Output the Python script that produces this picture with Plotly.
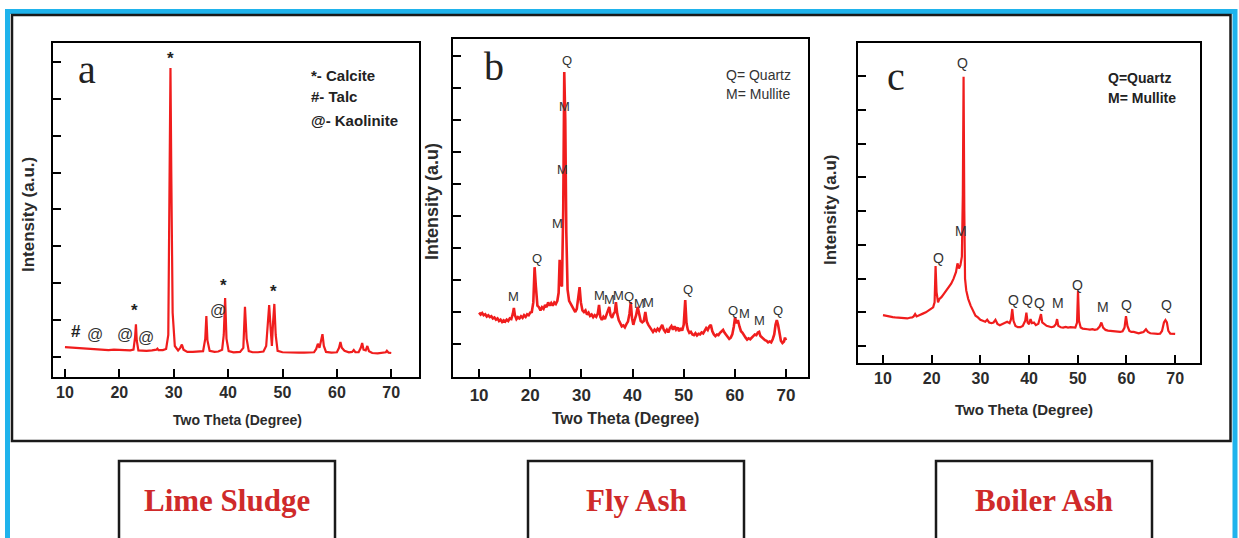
import plotly.graph_objects as go

W, H = 1239, 538

# ---------------- data ----------------
# Panel a : Lime Sludge
a_theta = [10, 11, 12, 13, 14, 15, 16, 17, 18, 19, 20, 21, 22, 22.6, 22.9, 23.05, 23.2, 23.5, 24, 25, 26,
           26.8, 27, 27.2, 28, 28.6, 29.0, 29.25, 29.4, 29.55, 29.8, 30.2, 30.8, 31.2, 31.5, 31.8, 32.5,
           33.5, 34.5, 35.4, 35.8, 36.0, 36.2, 36.6, 37.5, 38.2, 38.9, 39.2, 39.45, 39.7, 40.1, 41, 42.2,
           42.8, 43.1, 43.4, 43.8, 44.5, 45.5, 46.5, 47.0, 47.3, 47.55, 47.85, 48.05, 48.25, 48.5, 48.75,
           49.1, 50, 51, 52, 53, 54, 55, 55.8, 56.2, 56.5, 56.8, 57.1, 57.35, 57.6, 58, 59, 60, 60.4,
           60.65, 60.9, 61.4, 62.2, 62.8, 63.1, 63.4, 64, 64.4, 64.65, 64.9, 65.3, 65.6, 65.9, 66.5, 67.5,
           68.5, 69, 69.2, 69.5, 70]
a_int = [0.27, 0.26, 0.25, 0.23, 0.22, 0.21, 0.20, 0.20, 0.19, 0.20, 0.19, 0.18, 0.18, 0.20, 0.55, 0.89,
         0.45, 0.18, 0.17, 0.17, 0.18, 0.20, 0.23, 0.19, 0.19, 0.22, 0.60, 4.50, 7.83, 5.00, 1.20, 0.30,
         0.18, 0.25, 0.34, 0.20, 0.14, 0.14, 0.14, 0.16, 0.50, 1.11, 0.45, 0.17, 0.14, 0.15, 0.20, 0.60,
         1.60, 0.50, 0.16, 0.13, 0.14, 0.25, 1.36, 0.50, 0.16, 0.13, 0.13, 0.15, 0.30, 0.80, 1.41, 0.70,
         0.30, 0.90, 1.44, 0.60, 0.17, 0.13, 0.12, 0.12, 0.12, 0.12, 0.12, 0.13, 0.22, 0.36, 0.25, 0.45,
         0.62, 0.30, 0.14, 0.12, 0.13, 0.25, 0.41, 0.25, 0.17, 0.13, 0.14, 0.19, 0.13, 0.13, 0.25, 0.38,
         0.20, 0.18, 0.30, 0.16, 0.11, 0.10, 0.11, 0.13, 0.17, 0.12, 0.11]
a_mark_text = ["*", "*", "#", "@", "@", "@", "@", "*", "*"]
a_mark_x = [29.4, 22.7, 12.0, 15.5, 21.1, 24.9, 38.1, 39.2, 48.3]
a_mark_y = [8.10, 1.25, 0.68, 0.62, 0.62, 0.54, 1.25, 1.95, 1.79]
a_legend = ["*- Calcite", "#- Talc", "@- Kaolinite"]

# Panel b : Fly Ash
b_theta = [10.0, 10.3, 10.6, 10.9, 11.2, 11.5, 11.8, 12.1, 12.4, 12.7, 13.0, 13.3, 13.6, 13.9, 14.2, 14.5,
           14.8, 15.1, 15.4, 15.7, 16.0, 16.3, 16.6, 16.8, 17.0, 17.3, 17.6, 17.9, 18.2, 18.5, 18.8, 19.1,
           19.4, 19.7, 20.0, 20.3, 20.6, 20.85, 21.1, 21.4, 21.7, 22.0, 22.3, 22.6, 22.9, 23.2, 23.5, 23.8,
           24.1, 24.4, 24.7, 25.0, 25.3, 25.55, 25.75, 25.95, 26.2, 26.45, 26.65, 26.85, 27.05, 27.3, 27.6,
           27.9, 28.2, 28.5, 28.8, 29.1, 29.4, 29.65, 29.9, 30.2, 30.5, 30.8, 31.1, 31.4, 31.7, 32.0, 32.3,
           32.6, 32.9, 33.2, 33.45, 33.7, 34.0, 34.3, 34.6, 34.9, 35.2, 35.45, 35.7, 36.0, 36.3, 36.55,
           36.75, 37.0, 37.3, 37.6, 37.9, 38.2, 38.5, 38.8, 39.1, 39.4, 39.65, 39.9, 40.15, 40.4, 40.7,
           41.0, 41.3, 41.6, 41.9, 42.2, 42.5, 42.8, 43.1, 43.4, 43.7, 44.0, 44.3, 44.6, 44.9, 45.2, 45.5,
           45.8, 46.1, 46.4, 46.7, 47.0, 47.3, 47.6, 47.9, 48.2, 48.5, 48.8, 49.1, 49.4, 49.7, 50.0, 50.3,
           50.55, 50.8, 51.1, 51.4, 51.7, 52.0, 52.3, 52.6, 52.9, 53.2, 53.5, 53.8, 54.1, 54.4, 54.7, 55.0,
           55.3, 55.6, 55.9, 56.2, 56.5, 56.8, 57.1, 57.4, 57.7, 58.0, 58.3, 58.6, 58.9, 59.2, 59.5, 59.8,
           60.05, 60.3, 60.6, 60.9, 61.2, 61.5, 61.8, 62.1, 62.4, 62.7, 63.0, 63.3, 63.6, 63.9, 64.2, 64.5,
           64.75, 65.0, 65.3, 65.6, 65.9, 66.2, 66.5, 66.8, 67.1, 67.4, 67.7, 67.95, 68.2, 68.45, 68.7,
           69.0, 69.3, 69.6, 69.8, 70.0]
b_int = [0.98, 0.92, 0.97, 0.90, 0.93, 0.86, 0.90, 0.84, 0.87, 0.80, 0.83, 0.76, 0.80, 0.72, 0.76, 0.69,
         0.74, 0.70, 0.76, 0.72, 0.80, 0.78, 0.95, 1.13, 0.90, 0.78, 0.84, 0.80, 0.87, 0.82, 0.90, 0.85,
         0.93, 0.90, 0.98, 1.00, 1.30, 2.40, 1.80, 1.20, 1.15, 1.05, 1.15, 1.10, 1.22, 1.15, 1.30, 1.20,
         1.28, 1.20, 1.30, 1.25, 1.35, 1.60, 2.63, 1.90, 1.80, 4.20, 8.50, 7.00, 3.50, 1.70, 1.35,
         1.25, 1.15, 1.05, 1.00, 1.10, 1.40, 1.78, 1.30, 1.05, 1.00, 1.05, 0.92, 0.98, 0.88, 0.92, 0.84,
         0.90, 0.85, 0.95, 1.22, 0.85, 0.75, 0.85, 0.78, 0.90, 1.00, 1.16, 0.90, 0.82, 0.95, 1.00,
         1.31, 0.95, 0.75, 0.62, 0.55, 0.58, 0.52, 0.62, 0.70, 0.95, 1.31, 0.80, 0.60, 0.75, 0.90,
         1.16, 0.95, 0.72, 0.68, 0.72, 1.00, 0.70, 0.60, 0.50, 0.45, 0.38, 0.45, 0.40, 0.48, 0.42, 0.50,
         0.60, 0.45, 0.38, 0.45, 0.36, 0.50, 0.56, 0.45, 0.55, 0.45, 0.52, 0.40, 0.50, 0.42, 0.60, 1.37,
         0.65, 0.45, 0.35, 0.38, 0.30, 0.28, 0.34, 0.27, 0.32, 0.30, 0.36, 0.33, 0.42, 0.50, 0.44, 0.55,
         0.60, 0.40, 0.30, 0.25, 0.30, 0.28, 0.35, 0.40, 0.44, 0.35, 0.28, 0.22, 0.16, 0.20, 0.30, 0.55,
         0.84, 0.65, 0.75, 0.55, 0.40, 0.35, 0.25, 0.20, 0.14, 0.18, 0.15, 0.22, 0.25, 0.30, 0.28, 0.36,
         0.38, 0.25, 0.20, 0.15, 0.12, 0.10, 0.05, 0.08, 0.05, 0.15, 0.30, 0.60, 0.75, 0.60, 0.35,
         0.10, 0.03, 0.08, 0.20, 0.12]
b_mark_text = ["Q", "M", "M", "M", "Q", "M", "M", "M", "M", "Q", "M", "M", "Q", "Q", "M", "M", "Q"]
b_mark_x = [27.1, 26.6, 26.3, 25.4, 21.3, 16.7, 33.5, 35.45, 37.2, 39.4, 41.4, 43.2, 50.8, 59.7, 61.8, 64.9, 68.5]
b_mark_y = [8.85, 7.42, 5.46, 3.77, 2.68, 1.48, 1.53, 1.40, 1.53, 1.48, 1.27, 1.29, 1.71, 1.06, 0.96, 0.72, 1.06]
b_legend = ["Q= Quartz", "M= Mullite"]

# Panel c : Boiler Ash
c_theta = [10.0, 10.5, 11.0, 11.5, 12.0, 12.5, 13.0, 13.5, 14.0, 14.5, 15.0, 15.5, 16.0, 16.3, 16.6, 16.9,
           17.3, 17.8, 18.3, 18.8, 19.3, 19.8, 20.3, 20.6, 20.8, 21.0, 21.3, 21.6, 22.0, 22.5, 23.0, 23.5,
           24.0, 24.5, 25.0, 25.3, 25.6, 25.9, 26.2, 26.4, 26.55, 26.7, 26.85, 27.1, 27.5, 28.0, 28.5, 29.0,
           29.5, 30.0, 30.5, 31.0, 31.4, 31.8, 32.3, 32.7, 33.1, 33.5, 34.0, 34.5, 35.0, 35.5, 36.0, 36.3,
           36.55, 36.8, 37.2, 37.7, 38.2, 38.7, 39.2, 39.45, 39.7, 40.0, 40.3, 40.6, 41.0, 41.4, 41.9, 42.2,
           42.45, 42.7, 43.1, 43.6, 44.1, 44.6, 45.1, 45.5, 45.75, 46.0, 46.5, 47.0, 47.5, 48.0, 48.5, 49.0,
           49.5, 49.85, 50.05, 50.25, 50.6, 51.0, 51.5, 52.0, 52.5, 53.0, 53.5, 54.0, 54.5, 54.85, 55.2,
           55.7, 56.2, 56.7, 57.2, 57.7, 58.2, 58.7, 59.2, 59.6, 59.9, 60.2, 60.6, 61.0, 61.5, 62.0, 62.5,
           63.0, 63.5, 64.0, 64.4, 64.9, 65.4, 65.9, 66.4, 66.9, 67.3, 67.7, 68.0, 68.3, 68.6, 69.0, 69.5, 70.0]
c_int = [0.92, 0.90, 0.90, 0.87, 0.86, 0.85, 0.84, 0.83, 0.82, 0.83, 0.82, 0.84, 0.85, 0.88, 0.95, 0.88,
         0.90, 0.93, 0.97, 1.00, 1.05, 1.10, 1.15, 1.30, 2.37, 1.60, 1.30, 1.40, 1.45, 1.55, 1.65, 1.75,
         1.85, 2.00, 2.20, 2.45, 2.30, 2.40, 2.65, 4.50, 7.98, 4.00, 2.00, 1.65, 1.40, 1.20, 1.05, 0.90,
         0.85, 0.78, 0.75, 0.72, 0.78, 0.70, 0.68, 0.70, 0.78, 0.66, 0.62, 0.65, 0.70, 0.72, 0.68, 0.80,
         1.10, 0.75, 0.60, 0.56, 0.56, 0.60, 0.75, 0.99, 0.70, 0.65, 0.80, 0.68, 0.70, 0.62, 0.66, 0.80,
         0.95, 0.70, 0.65, 0.60, 0.58, 0.56, 0.58, 0.65, 0.80, 0.60, 0.56, 0.55, 0.57, 0.55, 0.56, 0.55,
         0.55, 0.70, 1.64, 0.75, 0.55, 0.52, 0.50, 0.50, 0.49, 0.50, 0.48, 0.50, 0.58, 0.70, 0.55,
         0.48, 0.46, 0.45, 0.45, 0.44, 0.43, 0.42, 0.44, 0.55, 0.89, 0.60, 0.45, 0.42, 0.42, 0.40, 0.38,
         0.40, 0.42, 0.50, 0.42, 0.38, 0.37, 0.38, 0.36, 0.37, 0.45, 0.70, 0.77, 0.70, 0.45, 0.37, 0.36, 0.36]
c_mark_text = ["Q", "M", "Q", "Q", "Q", "Q", "M", "Q", "M", "Q", "Q"]
c_mark_x = [26.4, 26.0, 21.4, 36.8, 39.6, 42.2, 46.0, 50.0, 55.1, 60.0, 68.3]
c_mark_y = [8.38, 3.41, 2.62, 1.36, 1.36, 1.29, 1.29, 1.81, 1.16, 1.21, 1.21]
c_legend = ["Q=Quartz", "M= Mullite"]

x_ticks = [10, 20, 30, 40, 50, 60, 70]
x_tick_labels = ["10", "20", "30", "40", "50", "60", "70"]
x_title = "Two Theta (Degree)"
sample_names = ["Lime Sludge", "Fly Ash", "Boiler Ash"]

# ---------------- helpers (layout positions in pixels) ----------------
def fx(px):
    return px / W

def fy(py):
    return 1 - py / H

RED = "#f01d1d"
INK = "#2b2b2b"
SANS = "Arial, Liberation Sans"
SERIF = "Liberation Serif, Times New Roman"

fig = go.Figure()

panels = [
    dict(t=a_theta, i=a_int, mt=a_mark_text, mx=a_mark_x, my=a_mark_y,
         box=(53, 43, 419, 377), xr=[7.8, 75.1], yr=[-0.54, 8.51], ny=9, lw=2.2, tf=16, so=0, mf=14),
    dict(t=b_theta, i=b_int, mt=b_mark_text, mx=b_mark_x, my=b_mark_y,
         box=(453, 39, 808, 377), xr=[4.9, 74.3], yr=[-1.03, 9.53], ny=10, lw=2.6, tf=17, so=2, mf=13),
    dict(t=c_theta, i=c_int, mt=c_mark_text, mx=c_mark_x, my=c_mark_y,
         box=(858, 43, 1200, 363), xr=[4.87, 75.1], yr=[-0.5, 8.98], ny=9, lw=2.2, tf=16, so=0, mf=14),
]

annotations = []
for k, p in enumerate(panels, start=1):
    xa = "x" if k == 1 else f"x{k}"
    ya = "y" if k == 1 else f"y{k}"
    fig.add_trace(go.Scatter(x=p["t"], y=p["i"], mode="lines",
                             line=dict(color=RED, width=p["lw"]),
                             xaxis=xa, yaxis=ya, showlegend=False, hoverinfo="skip"))
    l, t, r, b = p["box"]
    axis_common = dict(showline=True, linecolor="black", linewidth=2, mirror=True,
                       showgrid=False, zeroline=False, ticks="inside", ticklen=8,
                       tickwidth=2, tickcolor="black")
    fig.update_layout(**{
        ("xaxis" if k == 1 else f"xaxis{k}"): dict(
            domain=[fx(l), fx(r)], range=p["xr"], tickvals=x_ticks,
            ticktext=["<b>" + s + "</b>" for s in x_tick_labels],
            anchor=ya, tickfont=dict(family=SANS, size=p["tf"], color=INK),
            ticklabelstandoff=p["so"], **axis_common),
        ("yaxis" if k == 1 else f"yaxis{k}"): dict(
            domain=[fy(b), fy(t)], range=p["yr"], tickvals=list(range(p["ny"])),
            showticklabels=False, anchor=xa, **axis_common),
    })
    for txt, mx, my in zip(p["mt"], p["mx"], p["my"]):
        if txt in "*#":
            font = dict(family=SANS, size=17, color="#222222")
            txt = "<b>" + txt + "</b>"
        elif txt == "@":
            font = dict(family=SANS, size=16, color="#333333")
        else:
            font = dict(family=SANS, size=p["mf"], color="#333333")
        annotations.append(dict(x=mx, y=my, xref=xa, yref=ya, text=txt, showarrow=False,
                                font=font, xanchor="center", yanchor="middle"))

# Axis titles (pixel-placed text)
x_titles = [(237, 420, 14), (625, 418, 16), (1024, 409, 15)]
y_titles = [("Intensity (a.u.)", 28, 215, 17), ("Intensity (a.u)", 432, 201, 18),
            ("Intensity (a.u)", 830, 210, 17)]
for cx, cy, fs in x_titles:
    annotations.append(dict(x=fx(cx), y=fy(cy), xref="paper", yref="paper", text="<b>" + x_title + "</b>",
                            showarrow=False, xanchor="center", yanchor="middle",
                            font=dict(family=SANS, size=fs, color=INK)))
for txt, cx, cy, fs in y_titles:
    annotations.append(dict(x=fx(cx), y=fy(cy), xref="paper", yref="paper", text="<b>" + txt + "</b>",
                            showarrow=False, xanchor="center", yanchor="middle", textangle=-90,
                            font=dict(family=SANS, size=fs, color=INK)))

# Panel letters
for txt, cx, cy in [("a", 87, 70), ("b", 494, 66), ("c", 896, 76)]:
    annotations.append(dict(x=fx(cx), y=fy(cy), xref="paper", yref="paper", text=txt, showarrow=False,
                            xanchor="center", yanchor="middle",
                            font=dict(family=SERIF, size=40, color="#222222")))

# Legends inside panels
for txt, cy in zip(a_legend, [75, 97, 120]):
    annotations.append(dict(x=fx(309), y=fy(cy), xref="paper", yref="paper", text="<b>" + txt + "</b>",
                            showarrow=False, xanchor="left", yanchor="middle",
                            font=dict(family=SANS, size=15, color="#222222")))
for txt, cy in zip(b_legend, [75, 94]):
    annotations.append(dict(x=fx(724), y=fy(cy), xref="paper", yref="paper", text=txt,
                            showarrow=False, xanchor="left", yanchor="middle",
                            font=dict(family=SANS, size=14, color="#333333")))
for txt, cy in zip(c_legend, [78, 98]):
    annotations.append(dict(x=fx(1106), y=fy(cy), xref="paper", yref="paper", text="<b>" + txt + "</b>",
                            showarrow=False, xanchor="left", yanchor="middle",
                            font=dict(family=SANS, size=14, color="#222222")))

# Sample name boxes
name_boxes = [(119, 461, 335, 545), (528, 461, 744, 545), (936, 461, 1152, 545)]
shapes = []
for (l, t, r, b), name in zip(name_boxes, sample_names):
    shapes.append(dict(type="rect", xref="paper", yref="paper", x0=fx(l), x1=fx(r), y0=fy(b), y1=fy(t),
                       line=dict(color="#1a1a1a", width=2.5), layer="above"))
    annotations.append(dict(x=fx((l + r) / 2), y=fy(500), xref="paper", yref="paper",
                            text="<b>" + name + "</b>", showarrow=False, xanchor="center", yanchor="middle",
                            font=dict(family=SERIF, size=31, color="#cf2a2a")))

# Outer blue frame and inner black frame
shapes.append(dict(type="rect", xref="paper", yref="paper", x0=fx(7.5), x1=fx(1235), y0=fy(560), y1=fy(11.5),
                   line=dict(color="#1fb3ec", width=5), layer="below"))
shapes.append(dict(type="rect", xref="paper", yref="paper", x0=fx(12), x1=fx(1230.5), y0=fy(441), y1=fy(15),
                   line=dict(color="#1a1a1a", width=2.5), layer="below"))

fig.update_layout(width=W, height=H, margin=dict(l=0, r=0, t=0, b=0),
                  paper_bgcolor="white", plot_bgcolor="rgba(0,0,0,0)",
                  shapes=shapes, annotations=annotations, showlegend=False)

fig.write_html("out.html")
